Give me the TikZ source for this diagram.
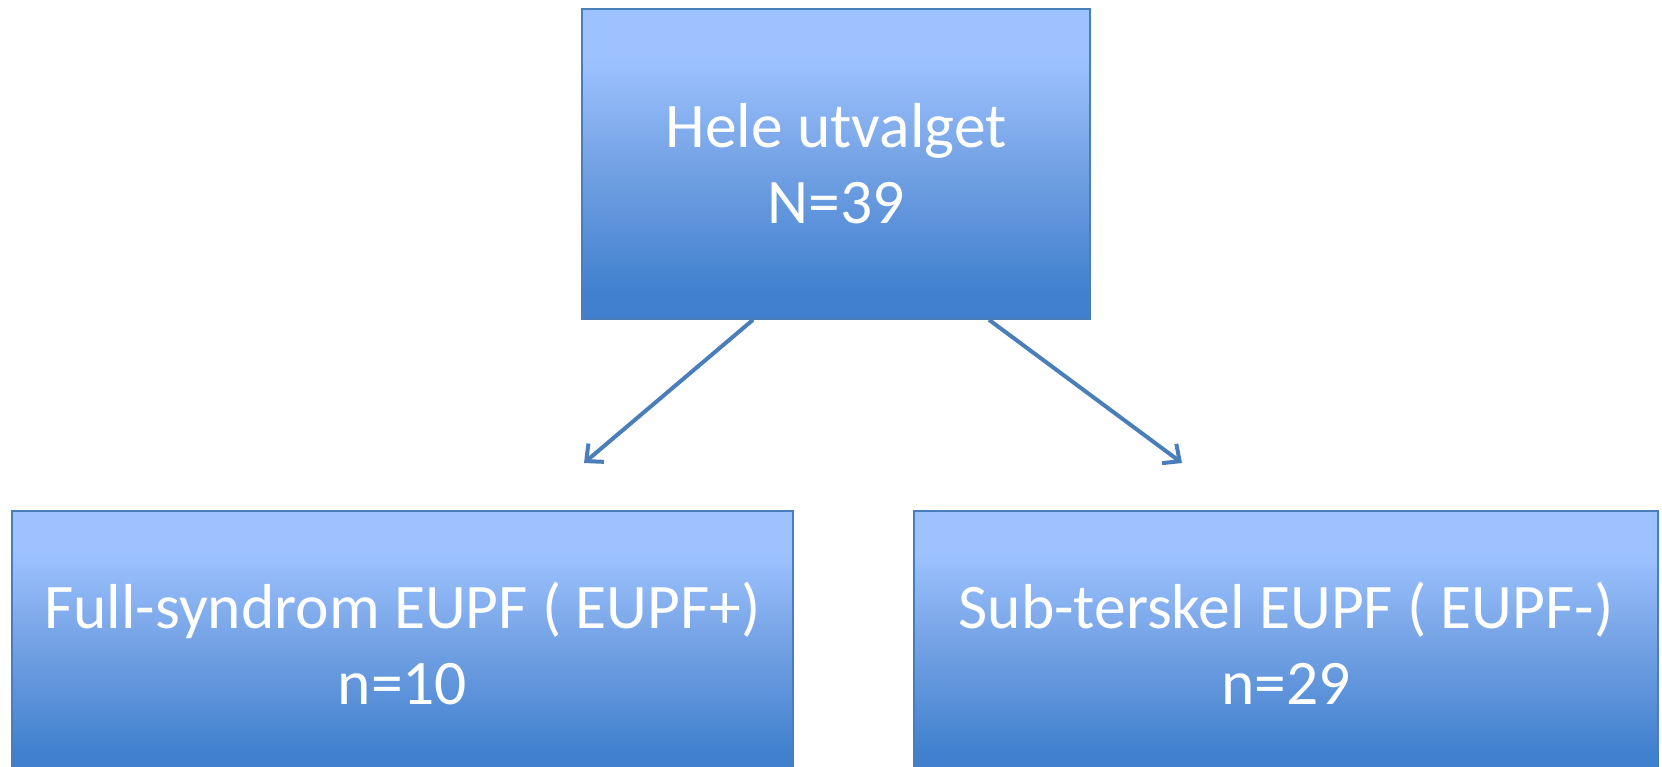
\documentclass[tikz,border=0pt]{standalone}
\usepackage{fontspec}
\setmainfont{Carlito}
\usetikzlibrary{arrows.meta}
\definecolor{boxlight}{RGB}{157,194,255}
\definecolor{boxmid}{RGB}{116,162,228}
\definecolor{boxdark}{RGB}{64,128,206}
\definecolor{boxedge}{RGB}{74,126,187}
\definecolor{arrowcol}{RGB}{74,126,187}
\pgfdeclareverticalshading{boxshade}{100bp}{color(0bp)=(boxdark); color(29bp)=(boxdark); color(50bp)=(boxmid); color(67bp)=(boxlight); color(100bp)=(boxlight)}
\tikzset{
  boxnode/.style={rectangle, draw=boxedge, line width=1.6pt, shading=boxshade, shading angle=0,
    text=white, align=center, font=\fontsize{63.5}{76}\selectfont, inner sep=0pt},
  linkarrow/.style={draw=arrowcol, line width=4pt, -{Straight Barb[length=13pt,width=24pt,line width=4pt]}}
}
\begin{document}
\begin{tikzpicture}[x=1pt,y=-1pt]
\clip (0,0) rectangle (1662,766);
\fill[white] (0,0) rectangle (1662,766);
\node[boxnode, minimum width=508pt, minimum height=310pt] (top) at (836,164) {Hele utvalget\\N=39};
\node[boxnode, minimum width=781pt, minimum height=264pt] (left) at (402.5,643) {Full-syndrom EUPF ( EUPF+)\\n=10};
\node[boxnode, minimum width=744pt, minimum height=264pt] (right) at (1286,643) {Sub-terskel EUPF ( EUPF-)\\n=29};
\coordinate (lefttip) at (584,463);
\coordinate (righttip) at (1182,463);
\draw[linkarrow] ([xshift=-83pt]top.south) -- (lefttip);
\draw[linkarrow] ([xshift=153pt]top.south) -- (righttip);
\end{tikzpicture}
\end{document}
